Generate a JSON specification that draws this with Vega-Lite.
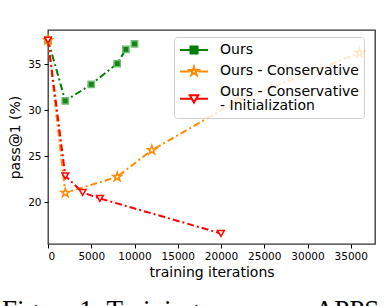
{
  "$schema": "https://vega.github.io/schema/vega-lite/v6.json",
  "width": 327,
  "height": 214,
  "autosize": "none",
  "padding": {"left": 48, "top": 30, "right": 9, "bottom": 62},
  "background": "white",
  "title": {
    "text": "Figure 1: Training curves on APPS",
    "orient": "bottom",
    "anchor": "start",
    "frame": "group",
    "font": "Liberation Serif",
    "fontSize": 27,
    "fontWeight": "normal",
    "color": "black",
    "offset": 18,
    "dx": -46,
    "baseline": "top"
  },
  "data": {
    "values": [
      {"series": "Ours", "iter": 0, "pass": 37.6},
      {"series": "Ours", "iter": 2000, "pass": 31.0},
      {"series": "Ours", "iter": 5000, "pass": 32.8},
      {"series": "Ours", "iter": 8000, "pass": 35.05},
      {"series": "Ours", "iter": 9000, "pass": 36.6},
      {"series": "Ours", "iter": 10000, "pass": 37.2},
      {"series": "Ours - Conservative", "iter": 0, "pass": 37.6},
      {"series": "Ours - Conservative", "iter": 2000, "pass": 21.0},
      {"series": "Ours - Conservative", "iter": 8000, "pass": 22.75},
      {"series": "Ours - Conservative", "iter": 12000, "pass": 25.65},
      {"series": "Ours - Conservative", "iter": 22000, "pass": 31.05},
      {"series": "Ours - Conservative", "iter": 36000, "pass": 36.2},
      {"series": "Ours - Conservative - Initialization", "iter": 0, "pass": 37.6},
      {"series": "Ours - Conservative - Initialization", "iter": 2000, "pass": 22.85},
      {"series": "Ours - Conservative - Initialization", "iter": 4000, "pass": 21.05},
      {"series": "Ours - Conservative - Initialization", "iter": 6000, "pass": 20.4},
      {"series": "Ours - Conservative - Initialization", "iter": 20000, "pass": 16.6}
    ]
  },
  "encoding": {
    "x": {
      "field": "iter",
      "type": "quantitative",
      "scale": {"domain": [0, 37800], "nice": false, "zero": false},
      "axis": {"values": [0, 5000, 10000, 15000, 20000, 25000, 30000, 35000], "format": "d", "title": "training iterations", "titlePadding": 4}
    },
    "y": {
      "field": "pass",
      "type": "quantitative",
      "scale": {"domain": [15.45, 38.7], "nice": false, "zero": false},
      "axis": {"values": [20, 25, 30, 35], "title": "pass@1 (%)", "titlePadding": 5}
    }
  },
  "layer": [
    {
      "mark": {"type": "line", "strokeWidth": 2, "strokeDash": [7, 3, 2, 3]},
      "encoding": {
        "color": {
          "field": "series",
          "type": "nominal",
          "scale": {
            "domain": ["Ours", "Ours - Conservative", "Ours - Conservative - Initialization"],
            "range": ["#008000", "#ff8c00", "#ff0000"]
          },
          "legend": {
            "orient": "none",
            "legendX": 126,
            "legendY": 7,
            "title": null,
            "fillColor": "rgba(255,255,255,0.8)",
            "strokeColor": "#d0d0d0",
            "cornerRadius": 3,
            "padding": 5,
            "labelFont": "DejaVu Sans",
            "labelFontSize": 14,
            "labelColor": "black",
            "labelLimit": 300,
            "labelOffset": 18,
            "symbolOffset": 7,
            "symbolSize": 196,
            "symbolStrokeWidth": 2,
            "symbolDash": [],
            "symbolType": "M-2,0L2,0",
            "rowPadding": 4.4,
            "labelExpr": "datum.label == 'Ours - Conservative - Initialization' ? ['Ours - Conservative', '- Initialization'] : datum.label",
            "encode": {
              "labels": {
                "update": {
                  "lineHeight": {"value": 14.4},
                  "dy": {"signal": "datum.value == 'Ours - Conservative - Initialization' ? -7.2 : 0"}
                }
              },
              "symbols": {
                "update": {
                  "shape": {"signal": "datum.value == 'Ours' ? 'M-2,0L-0.5,0M0.5,0L2,0M-0.5,-0.5L0.5,-0.5L0.5,0.5L-0.5,0.5Z' : datum.value == 'Ours - Conservative' ? 'M-2,0L-0.62,0M0.62,0L2,0M0,-0.66L0.148,-0.204L0.628,-0.204L0.24,0.078L0.388,0.534L0,0.252L-0.388,0.534L-0.24,0.078L-0.628,-0.204L-0.148,-0.204Z' : 'M-2,0L-0.3,0M0.3,0L2,0M-0.6,-0.52L0.6,-0.52L0,0.52Z'"},
                  "fill": {"signal": "datum.value == 'Ours' ? '#008000' : 'white'"},
                  "fillOpacity": {"value": 1},
                  "strokeDash": {"value": []}
                }
              }
            }
          }
        }
      }
    },
    {
      "transform": [{"filter": "datum.series == 'Ours'"}],
      "mark": {"type": "point", "shape": "square", "size": 40, "filled": true, "fill": "#1a801a", "stroke": "#6cbf6c", "strokeWidth": 1.5, "opacity": 1}
    },
    {
      "transform": [{"filter": "datum.series == 'Ours - Conservative'"}],
      "mark": {"type": "point", "shape": "M0,-1L0.225,-0.309L0.951,-0.309L0.363,0.118L0.588,0.809L0,0.382L-0.588,0.809L-0.363,0.118L-0.951,-0.309L-0.225,-0.309Z", "size": 85, "filled": true, "fill": "#fff4e6", "stroke": "#ff8c00", "strokeWidth": 1.5, "opacity": 1}
    },
    {
      "transform": [{"filter": "datum.series == 'Ours - Conservative - Initialization'"}],
      "mark": {"type": "point", "shape": "triangle-down", "size": 45, "filled": true, "fill": "#fff0f0", "stroke": "#ff0000", "strokeWidth": 1.5, "opacity": 1}
    }
  ],
  "config": {
    "view": {"stroke": "#333333", "strokeWidth": 1.3},
    "axis": {
      "labelFont": "DejaVu Sans",
      "titleFont": "DejaVu Sans",
      "labelColor": "black",
      "titleColor": "black",
      "tickColor": "black",
      "domain": false,
      "grid": false,
      "tickSize": 4,
      "labelFontSize": 10.5,
      "titleFontSize": 14,
      "titleFontWeight": "normal",
      "labelPadding": 3
    }
  }
}
